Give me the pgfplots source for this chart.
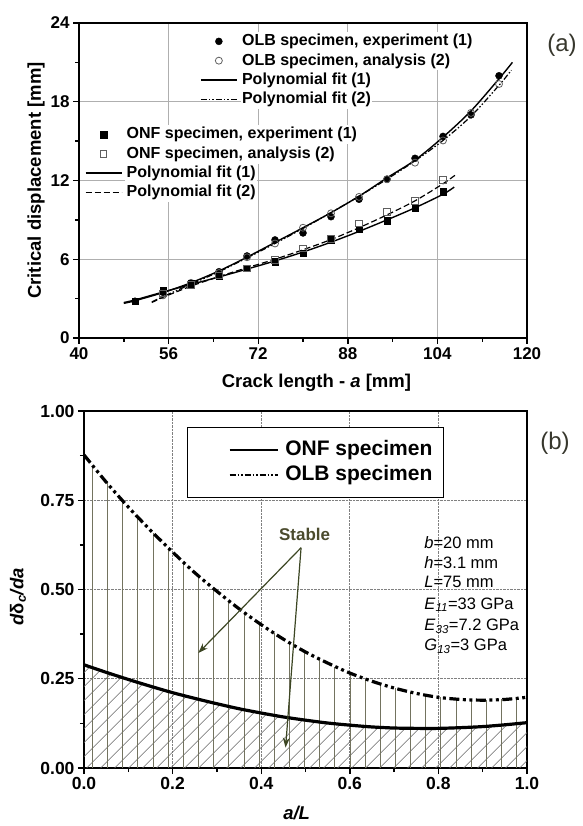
\documentclass[border=0pt]{standalone}
\usepackage{fontspec}
\setmainfont{Liberation Sans}
\usepackage{pgfplots}
\pgfplotsset{compat=1.18}
\usetikzlibrary{patterns.meta,arrows.meta}

\definecolor{olivedark}{RGB}{60,70,35}
\definecolor{stabletext}{RGB}{75,75,45}
\definecolor{labgray}{RGB}{55,55,45}
\definecolor{vline}{RGB}{115,115,95}
\definecolor{hatch}{RGB}{105,105,105}
\definecolor{gridgray}{RGB}{175,175,175}
\definecolor{opengray}{RGB}{95,95,95}

\pgfplotsset{
 marklegend/.style={legend image code/.code={\path[draw=none,fill=none] (0pt,-7pt) rectangle (36pt,7pt); \draw[##1,mark repeat=2,mark phase=2] plot coordinates {(0pt,0pt) (18pt,0pt) (36pt,0pt)};}},
 linelegend/.style={legend image code/.code={\path[draw=none,fill=none] (0pt,-7pt) rectangle (36pt,7pt); \draw[##1] (0pt,0pt) -- (36pt,0pt);}},
 biglinelegend/.style={legend image code/.code={\path[draw=none,fill=none] (-31pt,-12.5pt) rectangle (48pt,12.5pt); \draw[##1] (0pt,0pt) -- (48pt,0pt);}},
 panelA/.style={at={(79pt,488pt)}, anchor=south west, width=448pt, height=315pt, scale only axis, xmin=40,xmax=120,ymin=0,ymax=24},
 legA/.style={anchor=north west, draw=none, fill=none, inner sep=0pt,
   font=\fontsize{16}{18}\selectfont\bfseries,
   nodes={fill=white, inner xsep=1.5pt, inner ysep=0pt, text height=14pt, text depth=5.3pt},
   column sep=3pt, row sep=0pt},
 fitone/.style={black, line width=1.4pt, smooth},
 fittwoOLB/.style={black, line width=1.2pt, smooth, dash pattern=on 6pt off 2pt on 1.5pt off 2pt on 1.5pt off 2pt},
 fittwoONF/.style={black, line width=1.2pt, smooth, dash pattern=on 6pt off 3pt},
}

\begin{document}
\begin{tikzpicture}
\path[use as bounding box] (0pt,0pt) rectangle (582pt,826pt);

% ---------------- panel (a): OLB ----------------
\begin{axis}[panelA,
 xtick={40,56,72,88,104,120}, minor xtick={48,64,80,96,112},
 ytick={0,6,12,18,24}, minor ytick={3,9,15,21},
 xticklabels={40,56,72,88,104,120}, yticklabels={0,6,12,18,24},
 xtick pos=bottom, ytick pos=left, tick align=outside,
 major tick length=6pt, minor tick length=4pt,
 tick style={black, line width=1.4pt},
 axis line style={line width=2pt},
 grid=major, grid style={gridgray, line width=0.9pt},
 ticklabel style={font=\fontsize{17}{19}\selectfont\bfseries},
 xlabel={Crack length -  \textit{a} [mm]}, ylabel={Critical displacement [mm]},
 label style={font=\fontsize{18.5}{21}\selectfont\bfseries},
 xlabel style={at={(axis description cs:0.53,-0.143)}, anchor=center},
 ylabel style={at={(axis description cs:-0.096,0.5)}, anchor=center},
 legend style={legA, at={(axis cs:61.6,23.35)}},
 legend cell align=left,
]
\addplot[fitone, forget plot] coordinates {(48,2.64) (50,2.84) (55,3.46) (60,4.21) (65,5.11) (70,6.16) (75,7.28) (80,8.40) (85,9.55) (90,10.80) (95,12.20) (100,13.55) (105,15.30) (110,17.30) (115,19.75) (117.4,21.0)};
\addplot[fittwoOLB, forget plot] coordinates {(53,2.75) (55,3.15) (60,4.1) (65,5.05) (70,6.1) (75,7.2) (80,8.35) (85,9.55) (90,10.8) (95,12.1) (100,13.5) (105,15.05) (110,16.9) (115,19.25) (117.2,20.4)};
\addplot[only marks, mark=*, mark size=3.5pt, black, marklegend] coordinates {(50,2.8) (55,3.48) (60,4.17) (65,5.05) (70,6.25) (75,7.47) (80,8.0) (85,9.24) (90,10.57) (95,12.09) (100,13.69) (105,15.36) (110,17.0) (115,19.98)};
\addlegendentry{OLB specimen, experiment (1)}
\addplot[only marks, mark=o, mark size=3.5pt, opengray, line width=0.8pt, mark options={fill=white}, marklegend] coordinates {(55,3.25) (60,4.2) (65,4.95) (70,6.15) (75,7.2) (80,8.4) (85,9.5) (90,10.75) (95,12.1) (100,13.36) (105,15.05) (110,17.15) (115,19.35)};
\addlegendentry{OLB specimen, analysis (2)}
\addlegendimage{fitone, linelegend}
\addlegendentry{Polynomial fit (1)}
\addlegendimage{fittwoOLB, linelegend}
\addlegendentry{Polynomial fit (2)}
\end{axis}

% ---------------- panel (a): ONF (overlay) ----------------
\begin{axis}[panelA, hide axis,
 legend style={legA, at={(axis cs:41,16.25)}},
 legend cell align=left,
]
\addplot[fitone, forget plot] coordinates {(48,2.7) (50,2.9) (55,3.5) (60,4.08) (65,4.65) (70,5.25) (75,5.87) (80,6.55) (85,7.3) (90,8.12) (95,9.0) (100,9.92) (105,10.95) (107,11.5)};
\addplot[fittwoONF, forget plot] coordinates {(53,2.7) (55,3.1) (60,3.95) (65,4.68) (70,5.35) (75,6.0) (80,6.72) (85,7.5) (90,8.4) (95,9.38) (100,10.45) (105,11.75) (107.3,12.45)};
\addplot[only marks, mark=square*, mark size=3.2pt, black, marklegend] coordinates {(50,2.8) (55,3.6) (60,4.15) (65,4.7) (70,5.3) (75,5.82) (80,6.45) (85,7.5) (90,8.28) (95,8.94) (100,9.88) (105,11.15)};
\addlegendentry{ONF specimen, experiment (1)}
\addplot[only marks, mark=square, mark size=3.2pt, opengray, line width=0.8pt, mark options={fill=white}, marklegend] coordinates {(55,3.4) (60,4.05) (65,4.75) (70,5.3) (75,5.95) (80,6.83) (85,7.55) (90,8.74) (95,9.6) (100,10.46) (105,12.05)};
\addlegendentry{ONF specimen, analysis (2)}
\addlegendimage{fitone, linelegend}
\addlegendentry{Polynomial fit (1)}
\addlegendimage{fittwoONF, linelegend}
\addlegendentry{Polynomial fit (2)}
\end{axis}

% ---------------- panel (b) ----------------
\begin{axis}[at={(84pt,58pt)}, anchor=south west, width=443pt, height=357pt, scale only axis,
 xmin=0,xmax=1,ymin=0,ymax=1,
 xtick={0,0.2,0.4,0.6,0.8,1}, xticklabels={0.0,0.2,0.4,0.6,0.8,1.0},
 minor xtick={0.1,0.3,0.5,0.7,0.9},
 ytick={0,0.25,0.5,0.75,1}, yticklabels={0.00,0.25,0.50,0.75,1.00},
 minor ytick={0.125,0.375,0.625,0.875},
 xtick pos=bottom, ytick pos=left, tick align=outside,
 major tick length=6pt, minor tick length=4pt,
 tick style={black, line width=1.4pt},
 axis line style={line width=2pt},
 grid=major, grid style={densely dotted, gray, line width=0.9pt},
 ticklabel style={font=\fontsize{17.5}{19}\selectfont\bfseries},
 xlabel={\textit{a/L}}, ylabel={\textit{d}δ\textsubscript{\textit{c}}\textit{/da}},
 label style={font=\fontsize{18.5}{21}\selectfont\bfseries},
 xlabel style={at={(axis description cs:0.48,-0.126)}, anchor=center},
 ylabel style={at={(axis description cs:-0.149,0.479)}, anchor=center},
 legend style={at={(axis cs:0.232,0.956)}, anchor=north west, draw=black, line width=1.6pt, fill=white,
   inner xsep=11pt, inner ysep=10pt, font=\fontsize{21}{23}\selectfont\bfseries,
   nodes={inner sep=0pt, text height=15pt, text depth=4.5pt}, column sep=7pt, row sep=0pt},
 legend cell align=left,
]
\addplot[pattern={Lines[angle=45,distance=10.5pt,line width=0.7pt]}, pattern color=hatch, draw=none, smooth, forget plot] coordinates {
(0,0.289) (0.05,0.268) (0.1,0.248) (0.15,0.229) (0.2,0.211) (0.25,0.195) (0.3,0.180)
(0.35,0.166) (0.4,0.154) (0.45,0.143) (0.5,0.134) (0.55,0.126) (0.6,0.120) (0.65,0.115)
(0.7,0.112) (0.75,0.111) (0.8,0.111) (0.85,0.113) (0.9,0.116) (0.95,0.121) (1.0,0.127)} \closedcycle;
\addplot[ycomb, vline, line width=0.8pt, forget plot] coordinates {
(0.019,0.847) (0.0532,0.797) (0.0874,0.749) (0.1216,0.703) (0.1558,0.659) (0.19,0.616)
(0.2242,0.576) (0.2584,0.538) (0.2926,0.502) (0.3268,0.468) (0.361,0.436) (0.3952,0.406)
(0.4294,0.377) (0.4636,0.351) (0.4978,0.327) (0.532,0.305) (0.5662,0.284) (0.6004,0.266)
(0.6346,0.250) (0.6688,0.235) (0.703,0.223) (0.7372,0.212) (0.7714,0.204) (0.8056,0.198)
(0.8398,0.193) (0.874,0.191) (0.9082,0.190) (0.9424,0.192) (0.9766,0.195)};
\addplot[black, line width=3.2pt, smooth, forget plot] coordinates {
(0,0.289) (0.05,0.268) (0.1,0.248) (0.15,0.229) (0.2,0.211) (0.25,0.195) (0.3,0.180)
(0.35,0.166) (0.4,0.154) (0.45,0.143) (0.5,0.134) (0.55,0.126) (0.6,0.120) (0.65,0.115)
(0.7,0.112) (0.75,0.111) (0.8,0.111) (0.85,0.113) (0.9,0.116) (0.95,0.121) (1.0,0.127)};
\addplot[black, line width=3.2pt, smooth, line cap=butt, dash pattern=on 10pt off 3.5pt on 3pt off 3.5pt on 3pt off 3.5pt, forget plot] coordinates {
(0,0.877) (0.05,0.801) (0.1,0.731) (0.15,0.666) (0.2,0.605) (0.25,0.547) (0.3,0.495)
(0.35,0.446) (0.4,0.4015) (0.45,0.361) (0.5,0.325) (0.55,0.294) (0.6,0.266) (0.65,0.243)
(0.7,0.224) (0.75,0.209) (0.8,0.198) (0.85,0.192) (0.9,0.190) (0.95,0.192) (1.0,0.198)};
\addlegendimage{black, line width=1.5pt, biglinelegend}
\addlegendentry{ONF specimen}
\addlegendimage{black, line width=1.5pt, dash pattern=on 6pt off 2pt on 1.5pt off 2pt on 1.5pt off 2pt, biglinelegend}
\addlegendentry{OLB specimen}

\node[font=\fontsize{17}{19}\selectfont\bfseries, text=stabletext] at (axis cs:0.498,0.655) {Stable};
\draw[olivedark, line width=1.2pt, -{Stealth[length=10pt,width=7pt]}] (axis cs:0.49,0.617) -- (axis cs:0.258,0.322);
\draw[olivedark, line width=1.2pt, -{Stealth[length=10pt,width=7pt]}] (axis cs:0.49,0.617) -- (axis cs:0.455,0.057);

\node[anchor=base west, font=\fontsize{16.5}{18}\selectfont, inner sep=0pt] at (axis cs:0.768,0.615) {\textit{b}=20 mm};
\node[anchor=base west, font=\fontsize{16.5}{18}\selectfont, inner sep=0pt] at (axis cs:0.768,0.559) {\textit{h}=3.1 mm};
\node[anchor=base west, font=\fontsize{16.5}{18}\selectfont, inner sep=0pt] at (axis cs:0.768,0.506) {\textit{L}=75 mm};
\node[anchor=base west, font=\fontsize{16.5}{18}\selectfont, inner sep=0pt] at (axis cs:0.768,0.445) {\textit{E}\textsubscript{\textit{11}}=33 GPa};
\node[anchor=base west, font=\fontsize{16.5}{18}\selectfont, inner sep=0pt] at (axis cs:0.768,0.384) {\textit{E}\textsubscript{\textit{33}}=7.2 GPa};
\node[anchor=base west, font=\fontsize{16.5}{18}\selectfont, inner sep=0pt] at (axis cs:0.768,0.329) {\textit{G}\textsubscript{\textit{13}}=3 GPa};
\end{axis}

\node[font=\fontsize{24}{26}\selectfont, text=labgray] at (562pt,781pt) {(a)};
\node[font=\fontsize{24}{26}\selectfont, text=labgray] at (555pt,383pt) {(b)};
\end{tikzpicture}
\end{document}
